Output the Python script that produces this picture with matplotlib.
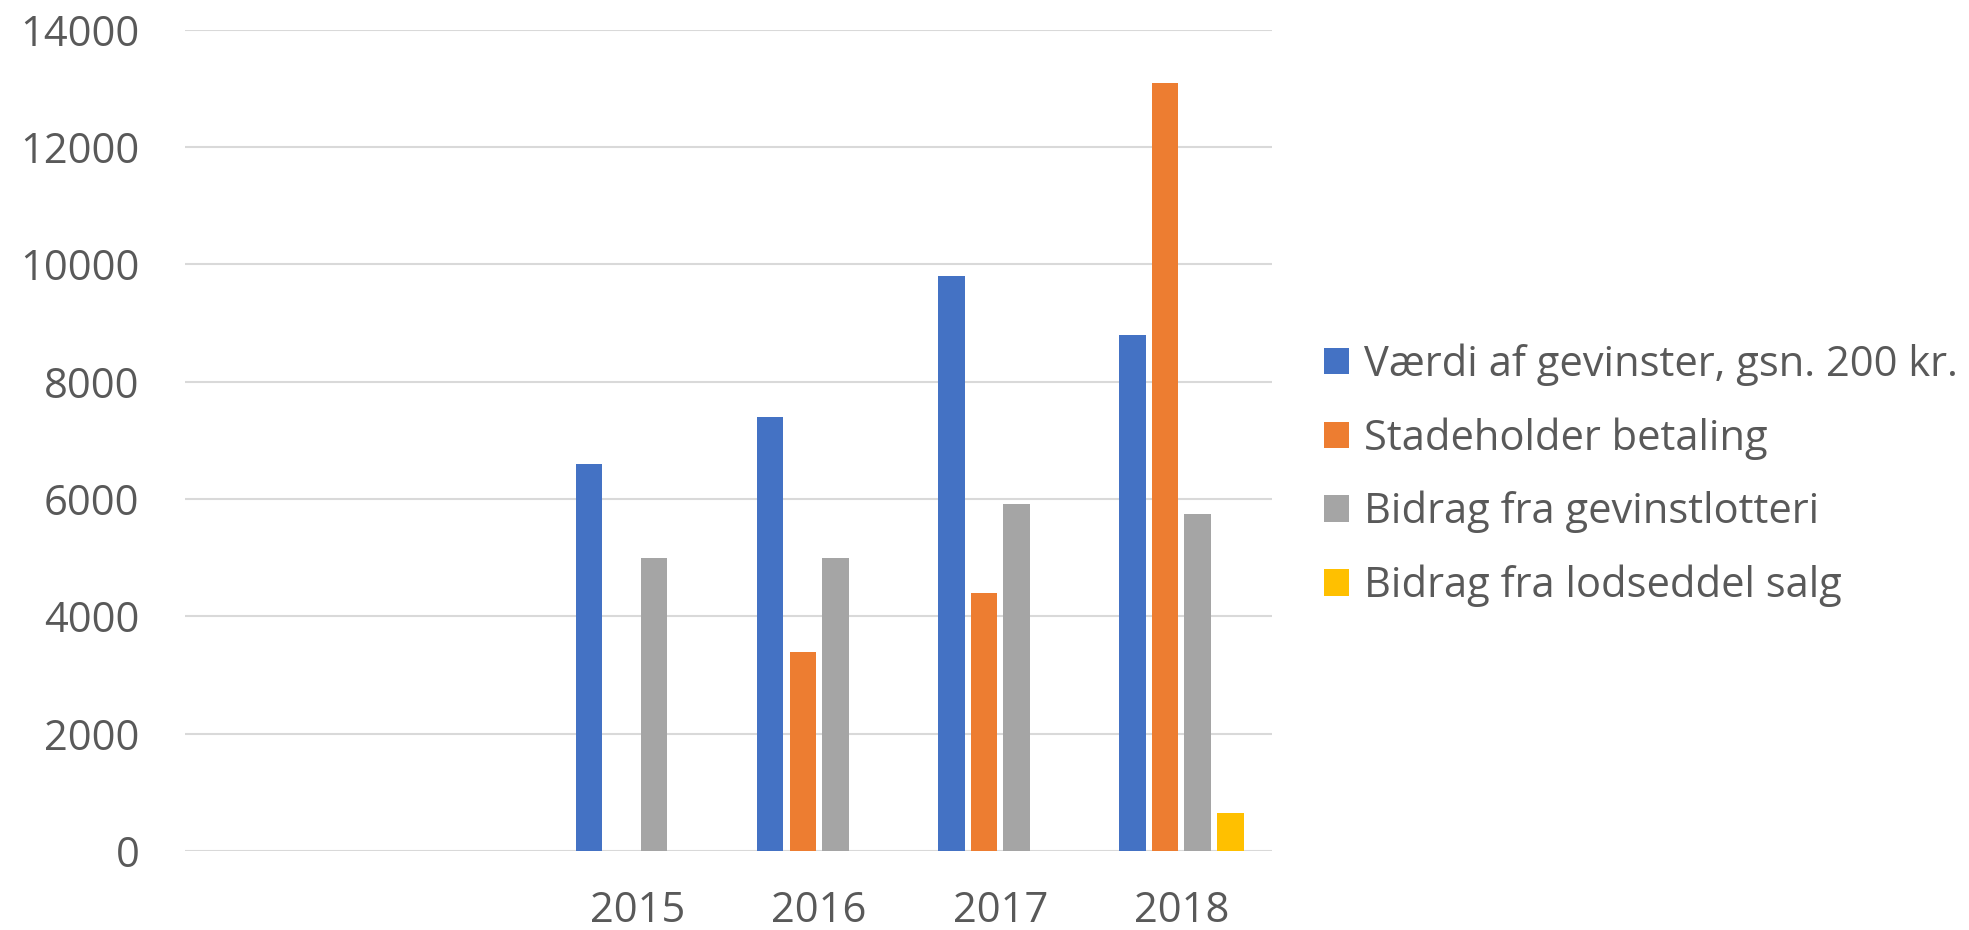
import numpy as np
import matplotlib
matplotlib.use("Agg")
import matplotlib.pyplot as plt

plt.rcParams['font.family'] = ['Open Sans', 'DejaVu Sans']

# Data (two leading categories are empty)
years = ["", "", "2015", "2016", "2017", "2018"]
vaerdi = [np.nan, np.nan, 6600, 7400, 9800, 8800]
stadeholder = [np.nan, np.nan, np.nan, 3400, 4400, 13100]
gevinstlotteri = [np.nan, np.nan, 5000, 5000, 5920, 5740]
lodseddel = [np.nan, np.nan, np.nan, np.nan, np.nan, 640]

series = [vaerdi, stadeholder, gevinstlotteri, lodseddel]
labels = ["Værdi af gevinster, gsn. 200 kr.", "Stadeholder betaling",
          "Bidrag fra gevinstlotteri", "Bidrag fra lodseddel salg"]
colors = ["#4472C4", "#ED7D31", "#A5A5A5", "#FFC000"]

text_col = "#595959"
grid_col = "#D9D9D9"

fig = plt.figure(figsize=(19.69, 9.30), dpi=100)
ax = fig.add_axes([0.094, 0.085, 0.552, 0.883])

x = np.arange(len(years))
step = 0.18
width = 0.146
for i, (vals, lab, col) in enumerate(zip(series, labels, colors)):
    ax.bar(x + (i - 1.5) * step, vals, width, color=col, label=lab, zorder=3)

ax.set_xlim(-0.5, len(years) - 0.5)
ax.set_ylim(0, 14000)
ax.set_yticks(range(0, 14001, 2000))
ax.set_xticks(x)
ax.set_xticklabels(years)

ax.grid(axis="y", color=grid_col, linewidth=1.5, zorder=0)
for s in ax.spines.values():
    s.set_visible(False)
ax.tick_params(axis="both", length=0, labelsize=30, colors=text_col)
ax.tick_params(axis="x", pad=28)
ax.tick_params(axis="y", pad=33)

leg = fig.legend(loc="center left", bbox_to_anchor=(0.662, 0.489), frameon=False,
                 fontsize=30, handlelength=0.6, handleheight=0.6,
                 handletextpad=0.35, labelspacing=0.75, borderpad=0)
for t in leg.get_texts():
    t.set_color(text_col)

fig.savefig("out.png", dpi=100)
